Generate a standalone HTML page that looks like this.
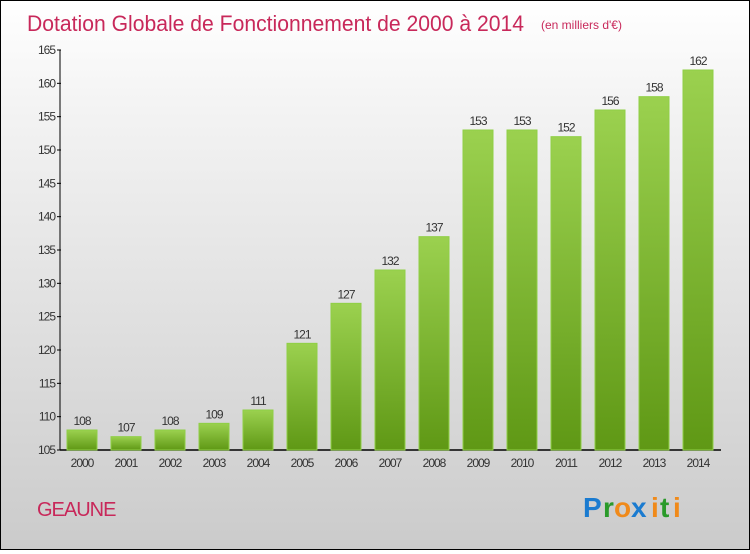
<!DOCTYPE html>
<html><head><meta charset="utf-8"><style>
html,body{margin:0;padding:0}
body{width:750px;height:550px;overflow:hidden;font-family:"Liberation Sans",sans-serif}
#wrap{position:relative;width:748px;height:548px;border:1px solid #000;background:linear-gradient(#fff,#f3f3f3 20%,#cbcbcb)}
</style></head><body>
<div id="wrap">
<svg id="chart" width="748" height="548">
<defs><linearGradient id="g" x1="0" y1="0" x2="0" y2="1"><stop offset="0" stop-color="#9bd14f"/><stop offset="1" stop-color="#5f9815"/></linearGradient></defs>
<text x="26" y="30" font-size="22" fill="#c8285a" textLength="497" lengthAdjust="spacingAndGlyphs">Dotation Globale de Fonctionnement de 2000 à 2014</text>
<text x="540" y="28" font-size="12" fill="#c8285a">(en milliers d'€)</text>
<text x="36" y="515" font-size="20" fill="#c8285a" letter-spacing="-1">GEAUNE</text>
<g font-size="28" font-weight="bold" font-family="Liberation Sans,sans-serif">
<text x="582" y="516" fill="#1a7bd0">P</text><text x="602" y="516" fill="#2a9a2a">r</text><text x="613" y="516" fill="#f08a1a">o</text><text x="630" y="516" fill="#1a7bd0">x</text><text x="650" y="516" fill="#f08a1a">i</text><text x="659" y="516" fill="#2a9a2a">t</text><text x="672" y="516" fill="#f08a1a">i</text></g>
<g id="bars"></g>
</svg></div>
<script>
const categories=["2000","2001","2002","2003","2004","2005","2006","2007","2008","2009","2010","2011","2012","2013","2014"];
const values=[108,107,108,109,111,121,127,132,137,153,153,152,156,158,162];
const yTicks=[105,110,115,120,125,130,135,140,145,150,155,160,165];
const NS="http://www.w3.org/2000/svg";
const g=document.getElementById('bars');
const y=v=>449-(v-105)*400/60;
const x=i=>66+i*44;
function mk(t,a,p){const e=document.createElementNS(NS,t);for(const k in a)e.setAttribute(k,a[k]);(p||g).appendChild(e);return e;}
let ax=mk('line',{x1:59,y1:49,x2:59,y2:449,stroke:'#000'});


let bx=mk('line',{x1:59,y1:449,x2:720,y2:449,stroke:'#000','stroke-width':1.5});


yTicks.forEach(t=>{
 mk('line',{x1:56,y1:y(t),x2:60,y2:y(t),stroke:'#000'});
 const tx=mk('text',{x:54,y:y(t)+4,'font-size':12,'text-anchor':'end',fill:'#333','letter-spacing':'-1'});
 tx.textContent=t;
 
 
});
categories.forEach((c,i)=>{
 const r=mk('rect',{x:x(i),y:y(values[i]),width:30,height:449-y(values[i]),fill:'url(#g)',stroke:'#8fcf45','stroke-width':1});
 
 
 const v=mk('text',{x:x(i)+15,y:y(values[i])-5,'font-size':12,'text-anchor':'middle',fill:'#333','letter-spacing':'-1'});
 v.textContent=values[i];
 
 
 const l=mk('text',{x:x(i)+15,y:466,'font-size':12,'text-anchor':'middle',fill:'#333','letter-spacing':'-1'});
 l.textContent=c;
 
 
});
</script>
</body></html>
